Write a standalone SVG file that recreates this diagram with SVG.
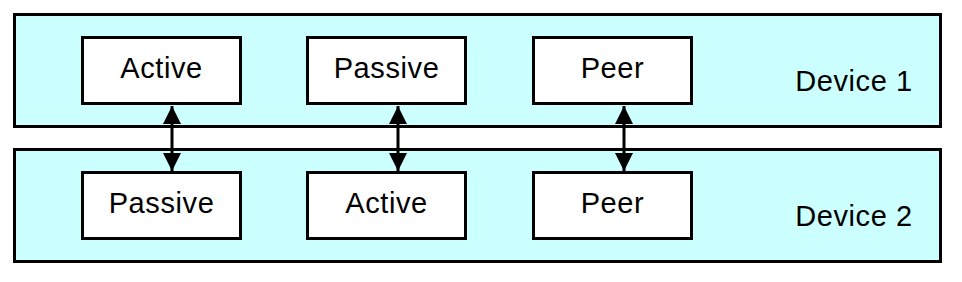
<svg xmlns="http://www.w3.org/2000/svg" width="962" height="282" viewBox="0 0 962 282">
<defs>
<style>
.dev{fill:#CCFFFF;stroke:#000;stroke-width:3}
.box{fill:#fff;stroke:#000;stroke-width:3}
.t{font-family:"Liberation Sans",Arial,sans-serif;font-size:29px;fill:#000;letter-spacing:0.6px}
.c{stroke:#000;stroke-width:3;fill:none;marker-start:url(#ah);marker-end:url(#ah)}
</style>
<marker id="ah" viewBox="0 0 10 10" refX="10" refY="5" markerWidth="6" markerHeight="6" markerUnits="strokeWidth" orient="auto-start-reverse">
<path d="M0,0 L10,5 L0,10 z" fill="#000"/>
</marker>
</defs>
<rect width="962" height="282" fill="#fff"/>
<g id="device1">
<rect class="dev" x="14.5" y="14.5" width="926" height="112"/>
<text class="t" x="854" y="91" text-anchor="middle">Device 1</text>
</g>
<g id="device2">
<rect class="dev" x="14.5" y="149.5" width="926" height="112"/>
<text class="t" x="854" y="226" text-anchor="middle">Device 2</text>
</g>
<g id="d1-active">
<rect class="box" x="82.5" y="37.5" width="158" height="66"/>
<text class="t" x="161.5" y="78" text-anchor="middle">Active</text>
</g>
<g id="d1-passive">
<rect class="box" x="307.5" y="37.5" width="158" height="66"/>
<text class="t" x="386.5" y="78" text-anchor="middle">Passive</text>
</g>
<g id="d1-peer">
<rect class="box" x="533.5" y="37.5" width="158" height="66"/>
<text class="t" x="612.5" y="78" text-anchor="middle">Peer</text>
</g>
<g id="d2-passive">
<rect class="box" x="82.5" y="172.5" width="158" height="66"/>
<text class="t" x="161.5" y="213" text-anchor="middle">Passive</text>
</g>
<g id="d2-active">
<rect class="box" x="307.5" y="172.5" width="158" height="66"/>
<text class="t" x="386.5" y="213" text-anchor="middle">Active</text>
</g>
<g id="d2-peer">
<rect class="box" x="533.5" y="172.5" width="158" height="66"/>
<text class="t" x="612.5" y="213" text-anchor="middle">Peer</text>
</g>
<g id="connectors">
<line class="c" x1="172" y1="106" x2="172" y2="171"/>
<line class="c" x1="398" y1="106" x2="398" y2="171"/>
<line class="c" x1="624" y1="106" x2="624" y2="171"/>
</g>
</svg>
